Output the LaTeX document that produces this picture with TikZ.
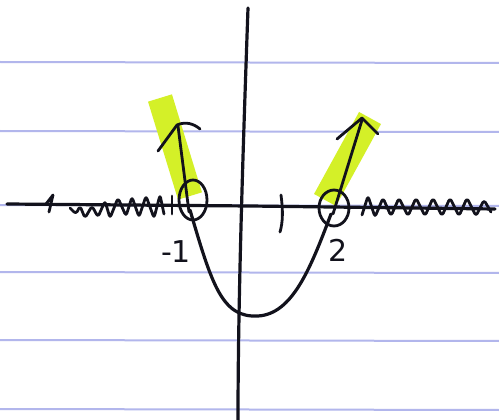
\documentclass[tikz,border=0pt]{standalone}
\usepackage{fontspec}
\setsansfont{DejaVu Sans}
\begin{document}
\begin{tikzpicture}[x=1pt,y=-1pt,
  paperline/.style={draw={rgb,255:red,178;green,182;blue,236}, line width=2pt},
  ink/.style={draw={rgb,255:red,18;green,18;blue,28}, line width=3.2pt, line cap=round, line join=round},
  thinink/.style={draw={rgb,255:red,18;green,18;blue,28}, line width=2.8pt, line cap=round, line join=round},
  highlight/.style={draw={rgb,255:red,212;green,240;blue,40}, line width=25pt, line cap=butt},
  lbl/.style={text={rgb,255:red,18;green,18;blue,28}, font=\sffamily\fontsize{30}{30}\selectfont, inner sep=0pt}]
\useasboundingbox (0,0) rectangle (499,420);
\fill[white] (0,0) rectangle (499,420);
% ruled paper lines
\foreach \yy in {62,131,205,272,340,409} \draw[paperline] (0,\yy) -- (499,\yy+1);
% highlights
\draw[highlight] (160,98) -- (190,196);
\draw[highlight] (325,200) -- (370,118);
% axes
\draw[ink] (7,204) -- (250,206) -- (495,209);
\draw[ink] (248,8) .. controls (243,150) and (238,300) .. (238,420);
% tick at 1
\draw[thinink] (281,195) .. controls (283,210) and (283,222) .. (280,232);
% parabola
\draw[ink] (190,210) .. controls (212,285) and (222,318) .. (258,316) .. controls (292,314) and (310,270) .. (331,214);
% open circles at roots
\draw[thinink] (193,200) ellipse [x radius=14, y radius=20];
\draw[thinink] (334,208) ellipse [x radius=15, y radius=18];
% left arrow
\draw[thinink] (189,212) -- (178,126);
\draw[thinink] (158,151) -- (177,125) .. controls (186,121) and (194,124) .. (200,129);
% right arrow
\draw[thinink] (333,214) -- (362,120);
\draw[thinink] (337,139) -- (362,118) -- (378,134);
% left sign chart squiggle
\draw[thinink] (46,204) -- (53,195) -- (49,212);
\draw[thinink, rounded corners=3pt] (70,208) -- (76,214) -- (80,206) -- (85,218) -- (92,206) -- (98,217) -- (105,201) -- (110,218) -- (118,198) -- (126,216) -- (132,197) -- (139,217) -- (146,196) -- (154,218) -- (160,195) -- (164,214);
\draw[thinink] (172,196) -- (172,214);
% right sign chart squiggle
\draw[thinink, rounded corners=3pt] (362,215) -- (368,196) -- (375,217) -- (383,198) -- (391,216) -- (399,198) -- (408,216) -- (416,198) -- (425,216) -- (433,198) -- (442,216) -- (450,198) -- (459,216) -- (467,198) -- (476,216) -- (484,200) -- (491,212);
% labels
\node[lbl] (lm1) at (176,252) {-1};
\node[lbl] (l2) at (338,250) {2};
\end{tikzpicture}
\end{document}
